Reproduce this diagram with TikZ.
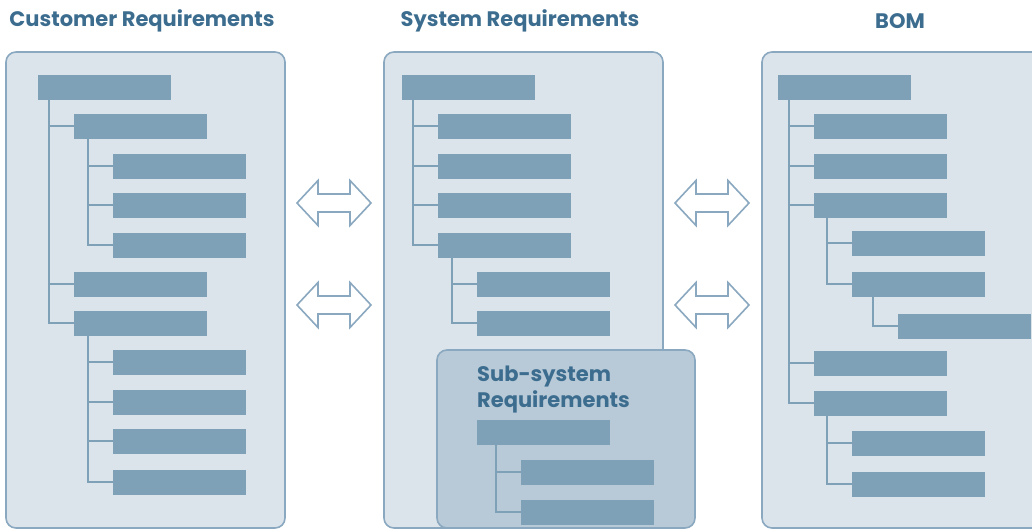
\documentclass[tikz,border=0pt]{standalone}
\usepackage{fontspec}
\setmainfont{Poppins}
\definecolor{barc}{HTML}{7FA1B7}
\definecolor{panelc}{HTML}{DCE4EB}
\definecolor{borderc}{HTML}{8AA8BF}
\definecolor{subc}{HTML}{B8CAD7}
\definecolor{titlec}{HTML}{3C6D8F}
\begin{document}
\begin{tikzpicture}[x=1pt,y=-1pt,
  bar/.style={fill=barc, minimum width=133pt, minimum height=24.5pt, inner sep=0pt, anchor=north west},
  panel/.style={fill=panelc, draw=borderc, line width=1.6pt, rounded corners=10pt},
  subpanel/.style={fill=subc, draw=borderc, line width=1.6pt, rounded corners=10pt},
  tree/.style={draw=barc, line width=2pt},
  title/.style={font=\fontsize{21}{24}\selectfont\bfseries, text=titlec, inner sep=0pt},
  dbl/.style={draw=borderc, fill=white, line width=1.6pt, line join=miter}]
\useasboundingbox (0,0) rectangle (1032,530);
% panels
\draw[panel] (6,52) rectangle (285,528);
\draw[panel] (384,52) rectangle (663,528);
\draw[panel] (762,52) rectangle (1045,528);
% titles
\node[title] (t1) at (142,21) {Customer Requirements};
\node[title] (t2) at (520,21) {System Requirements};
\node[title] (t3) at (900,21) {BOM};
% left tree
\node[bar] (L0) at (38,75) {};
\node[bar] (L1) at (74,114) {};
\node[bar] (L2) at (113,154) {};
\node[bar] (L3) at (113,193) {};
\node[bar] (L4) at (113,233) {};
\node[bar] (L5) at (74,272) {};
\node[bar] (L6) at (74,311) {};
\node[bar] (L7) at (113,350) {};
\node[bar] (L8) at (113,390) {};
\node[bar] (L9) at (113,429) {};
\node[bar] (L10) at (113,470) {};
\foreach \c in {L1,L5,L6} \draw[tree] ([xshift=11pt]L0.south west) |- (\c.west);
\foreach \c in {L2,L3,L4} \draw[tree] ([xshift=14pt]L1.south west) |- (\c.west);
\foreach \c in {L7,L8,L9,L10} \draw[tree] ([xshift=14pt]L6.south west) |- (\c.west);
% middle tree
\node[bar] (M0) at (402,75) {};
\node[bar] (M1) at (438,114) {};
\node[bar] (M2) at (438,154) {};
\node[bar] (M3) at (438,193) {};
\node[bar] (M4) at (438,233) {};
\node[bar] (M5) at (477,272) {};
\node[bar] (M6) at (477,311) {};
\foreach \c in {M1,M2,M3,M4} \draw[tree] ([xshift=11pt]M0.south west) |- (\c.west);
\foreach \c in {M5,M6} \draw[tree] ([xshift=14pt]M4.south west) |- (\c.west);
% sub-system
\draw[subpanel] (437,350) rectangle (695,528);
\node[font=\fontsize{21}{26}\selectfont\bfseries, text=titlec, align=left, anchor=north west, inner sep=0pt] (st) at (477,366) {Sub-system\\Requirements};
\node[bar] (S0) at (477,420) {};
\node[bar] (S1) at (521,460) {};
\node[bar] (S2) at (521,500) {};
\foreach \c in {S1,S2} \draw[tree] ([xshift=19pt]S0.south west) |- (\c.west);
% right tree
\node[bar] (R0) at (778,75) {};
\node[bar] (R1) at (814,114) {};
\node[bar] (R2) at (814,154) {};
\node[bar] (R3) at (814,193) {};
\node[bar] (R4) at (852,231) {};
\node[bar] (R5) at (852,272) {};
\node[bar] (R6) at (898,314) {};
\node[bar] (R7) at (814,351) {};
\node[bar] (R8) at (814,391) {};
\node[bar] (R9) at (852,431) {};
\node[bar] (R10) at (852,472) {};
\foreach \c in {R1,R2,R3,R7,R8} \draw[tree] ([xshift=11pt]R0.south west) |- (\c.west);
\foreach \c in {R4,R5} \draw[tree] ([xshift=13pt]R3.south west) |- (\c.west);
\foreach \c in {R6} \draw[tree] ([xshift=21pt]R5.south west) |- (\c.west);
\foreach \c in {R9,R10} \draw[tree] ([xshift=13pt]R8.south west) |- (\c.west);
% double arrows
\foreach \cx/\cy in {334/203, 334/305, 712/203, 712/305} {
  \draw[dbl] (\cx-37,\cy) -- (\cx-16,\cy-22.5) -- (\cx-16,\cy-9) -- (\cx+16,\cy-9) -- (\cx+16,\cy-22.5)
    -- (\cx+37,\cy) -- (\cx+16,\cy+22.5) -- (\cx+16,\cy+9) -- (\cx-16,\cy+9) -- (\cx-16,\cy+22.5) -- cycle;
}
\end{tikzpicture}
\end{document}
